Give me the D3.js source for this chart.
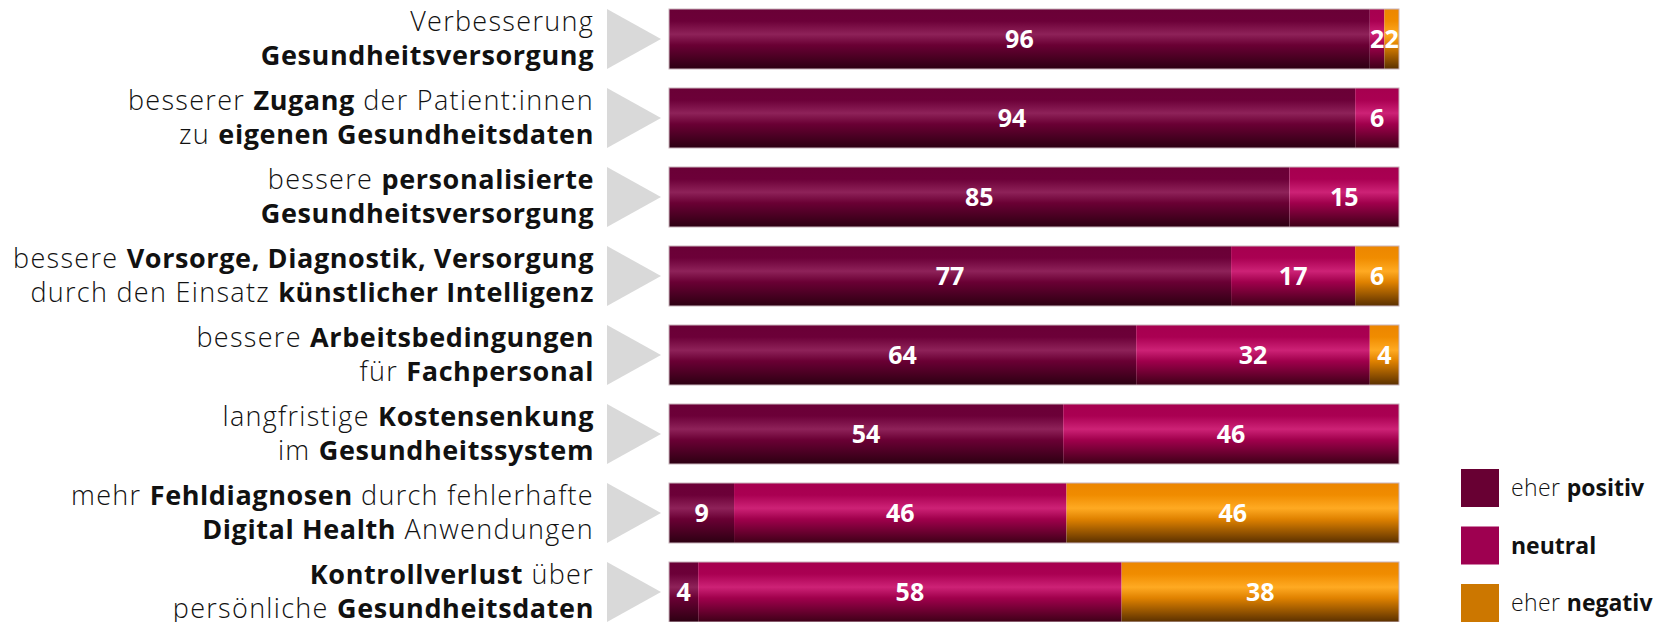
<!DOCTYPE html>
<html>
<head>
<meta charset="utf-8">
<script src="https://cdn.jsdelivr.net/npm/d3@7"></script>
<style>
  body { margin: 0; background: #fff; }
  svg { display: block; font-family: "Open Sans", sans-serif; }
</style>
</head>
<body>
<div class="chart"></div>
<script>
// row labels, "**" marks bold parts
const labels = [
  ["Verbesserung", "**Gesundheitsversorgung**"],
  ["besserer **Zugang** der Patient:innen", "zu **eigenen Gesundheitsdaten**"],
  ["bessere **personalisierte**", "**Gesundheitsversorgung**"],
  ["bessere **Vorsorge, Diagnostik, Versorgung**", "durch den Einsatz **künstlicher Intelligenz**"],
  ["bessere **Arbeitsbedingungen**", "für **Fachpersonal**"],
  ["langfristige **Kostensenkung**", "im **Gesundheitssystem**"],
  ["mehr **Fehldiagnosen** durch fehlerhafte", "**Digital Health** Anwendungen"],
  ["**Kontrollverlust** über", "persönliche **Gesundheitsdaten**"]
];
const positiv = [96, 94, 85, 77, 64, 54, 9, 4];
const neutral = [2, 6, 15, 17, 32, 46, 46, 58];
const negativ = [2, 0, 0, 6, 4, 0, 46, 38];
const seriesNames = ["positiv", "neutral", "negativ"];
const legendLabels = [["eher ", "positiv"], ["", "neutral"], ["eher ", "negativ"]];

const width = 1653, height = 622;
const barLeft = 669, barRight = 1399;

const svg = d3.select(".chart").append("svg")
  .attr("width", width).attr("height", height);

// gradients for the glossy bars
const grads = {
  positiv: ["#6a0036", "#6c0038", "#8e2259", "#6a0034", "#2c0012"],
  neutral: ["#a6004f", "#aa0052", "#cd2276", "#a0004c", "#3e0018"],
  negativ: ["#ec8600", "#f08c00", "#ffaa22", "#e08200", "#5a3000"]
};
const legendColor = { positiv: "#680033", neutral: "#9e0050", negativ: "#cc7700" };
const defs = svg.append("defs");
seriesNames.forEach(k => {
  const g = defs.append("linearGradient").attr("id", "g-" + k)
    .attr("x1", 0).attr("x2", 0).attr("y1", 0).attr("y2", 1);
  const c = grads[k];
  [[0, c[0]], [0.2, c[1]], [0.42, c[2]], [0.6, c[3]], [1, c[4]]].forEach(s =>
    g.append("stop").attr("offset", s[0]).attr("stop-color", s[1]));
});

const rows = labels.map((l, i) => ({
  i, label: l, values: [positiv[i], neutral[i], negativ[i]]
}));

const y = d3.scaleBand().domain(d3.range(rows.length))
  .range([9, 622]).paddingInner(19 / 79).paddingOuter(0);
const x = d3.scaleLinear().domain([0, 1]).range([barLeft, barRight]);

const row = svg.selectAll(".row").data(rows).enter().append("g").attr("class", "row");

row.each(function (d) {
  const total = d3.sum(d.values);
  let cum = 0;
  const segs = d.values.map((v, k) => {
    const s = { v, k, x0: cum / total, x1: (cum + v) / total };
    cum += v;
    return s;
  }).filter(s => s.v > 0);
  const g = d3.select(this);
  const top = y(d.i), h = y.bandwidth();
  g.selectAll("rect.seg").data(segs).enter().append("rect")
    .attr("class", "seg")
    .attr("x", s => x(s.x0)).attr("y", top)
    .attr("width", s => x(s.x1) - x(s.x0)).attr("height", h)
    .attr("fill", s => "url(#g-" + seriesNames[s.k] + ")");
  g.append("rect")
    .attr("x", x(0)).attr("y", top).attr("width", x(1) - x(0)).attr("height", h)
    .attr("fill", "none").attr("stroke", "#c9b3bc").attr("stroke-width", 1);
  g.selectAll("text.val").data(segs).enter().append("text")
    .attr("class", "val")
    .attr("x", s => (x(s.x0) + x(s.x1)) / 2)
    .attr("y", top + h / 2)
    .attr("dy", "0.35em")
    .attr("text-anchor", "middle")
    .attr("fill", "#fff").attr("font-weight", 700).attr("font-size", 25)
    .text(s => s.v);

  // grey triangle
  const cy = top + h / 2;
  g.append("path")
    .attr("d", `M607,${cy - 30}L661,${cy}L607,${cy + 30}Z`)
    .attr("fill", "#d9d9d9");

  // label with bold parts
  d.label.forEach((line, li) => {
    const t = g.append("text")
      .attr("x", 594).attr("y", cy + (li === 0 ? -8.5 : 26))
      .attr("text-anchor", "end")
      .attr("font-size", 27).attr("fill", "#111");
    line.split("**").forEach((part, pi) => {
      if (!part) return;
      t.append("tspan")
        .attr("font-weight", pi % 2 ? 700 : 300)
        .attr("letter-spacing", pi % 2 ? 0.6 : 1.3)
        .text(part);
    });
  });
});

// legend
const legend = svg.selectAll(".legend").data(seriesNames).enter().append("g")
  .attr("class", "legend")
  .attr("transform", (d, i) => `translate(1461,${469 + i * 57.5})`);
legend.append("rect").attr("width", 38).attr("height", 38)
  .attr("fill", d => legendColor[d]);
legend.append("text").attr("x", 50).attr("y", 19).attr("dy", "0.35em")
  .attr("font-size", 23).attr("fill", "#111")
  .each(function (d, i) {
    const t = d3.select(this);
    if (legendLabels[i][0]) t.append("tspan").attr("font-weight", 300).attr("letter-spacing", 0.4).text(legendLabels[i][0]);
    t.append("tspan").attr("font-weight", 700).text(legendLabels[i][1]);
  });
</script>
</body>
</html>
